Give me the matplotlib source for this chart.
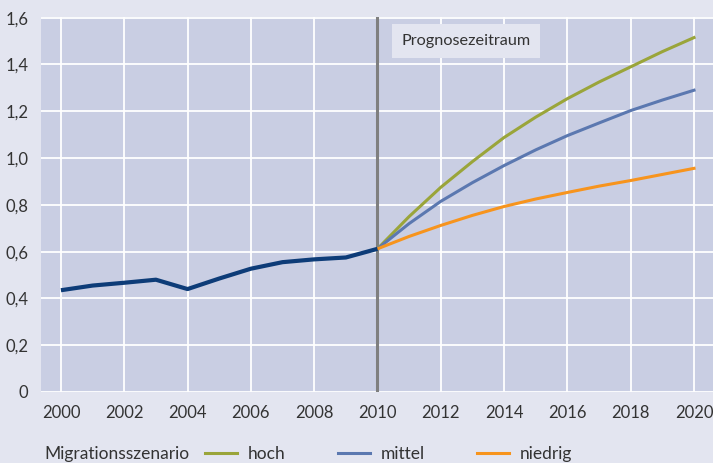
import matplotlib
matplotlib.use("Agg")
import matplotlib.pyplot as plt
from matplotlib.lines import Line2D

plt.rcParams['font.family'] = ['Lato', 'DejaVu Sans']

years_hist = [2000, 2001, 2002, 2003, 2004, 2005, 2006, 2007, 2008, 2009, 2010]
values_hist = [0.435, 0.455, 0.467, 0.48, 0.44, 0.485, 0.527, 0.555, 0.567, 0.575, 0.612]

years_proj = [2010, 2011, 2012, 2013, 2014, 2015, 2016, 2017, 2018, 2019, 2020]
hoch = [0.612, 0.75, 0.875, 0.985, 1.088, 1.175, 1.254, 1.325, 1.39, 1.455, 1.515]
mittel = [0.612, 0.72, 0.815, 0.895, 0.968, 1.035, 1.096, 1.15, 1.203, 1.248, 1.29]
niedrig = [0.612, 0.665, 0.712, 0.755, 0.793, 0.825, 0.853, 0.88, 0.904, 0.93, 0.956]

scenario_labels = ["hoch", "mittel", "niedrig"]
x_ticks = list(range(2000, 2021, 2))
y_ticks = [0, 0.2, 0.4, 0.6, 0.8, 1.0, 1.2, 1.4, 1.6]
y_tick_labels = ["0", "0,2", "0,4", "0,6", "0,8", "1,0", "1,2", "1,4", "1,6"]

bg = "#e3e5f0"
plot_bg = "#c9cee3"
c_hist = "#0d3c78"
c_hoch = "#9aa53a"
c_mittel = "#5b78b0"
c_niedrig = "#f7941d"
text_c = "#333333"

fig = plt.figure(figsize=(7.13, 4.63), dpi=100, facecolor=bg)
ax = fig.add_axes([41/713, 1-392/463, 1-41/713, (392-17)/463])
ax.set_facecolor(plot_bg)

ax.set_xlim(1999.37, 2020.6)
ax.set_ylim(0, 1.603)

ax.set_xticks(x_ticks)
ax.set_xticklabels([str(x) for x in x_ticks])
ax.set_yticks(y_ticks)
ax.set_yticklabels(y_tick_labels)
ax.tick_params(length=0, labelsize=12, colors=text_c)
ax.tick_params(axis='x', pad=9)
ax.tick_params(axis='y', pad=9)
ax.grid(True, color="white", linewidth=1.3)
ax.set_axisbelow(True)
for s in ax.spines.values():
    s.set_visible(False)

ax.axvline(2010, color="#7f7f7f", linewidth=2.2, zorder=2)

ax.plot(years_proj, hoch, color=c_hoch, linewidth=2.2, zorder=3)
ax.plot(years_proj, mittel, color=c_mittel, linewidth=2.2, zorder=3)
ax.plot(years_proj, niedrig, color=c_niedrig, linewidth=2.2, zorder=3)
ax.plot(years_hist, values_hist, color=c_hist, linewidth=3.0, zorder=4, solid_capstyle='butt')

ax.text(2010.76, 1.4996, "Prognosezeitraum", fontsize=11.7, color=text_c,
        va='center', ha='left', zorder=5,
        bbox=dict(boxstyle="square,pad=0.6", fc=bg, ec='none'))

fig.text(44/713, 1-454/463, "Migrationsszenario", fontsize=12.5, color=text_c,
         ha='left', va='center')
handles = [Line2D([], [], color=c_hoch, linewidth=2.2),
           Line2D([], [], color=c_mittel, linewidth=2.2),
           Line2D([], [], color=c_niedrig, linewidth=2.2)]
leg = fig.legend(handles, scenario_labels, loc='center left',
                 bbox_to_anchor=(205/713, 1-454/463), ncol=3, frameon=False,
                 fontsize=12.5, handlelength=1.85, columnspacing=3.0,
                 handletextpad=0.62, borderaxespad=0, borderpad=0)
for t in leg.get_texts():
    t.set_color(text_c)

fig.savefig("out.png", dpi=100, facecolor=bg)
